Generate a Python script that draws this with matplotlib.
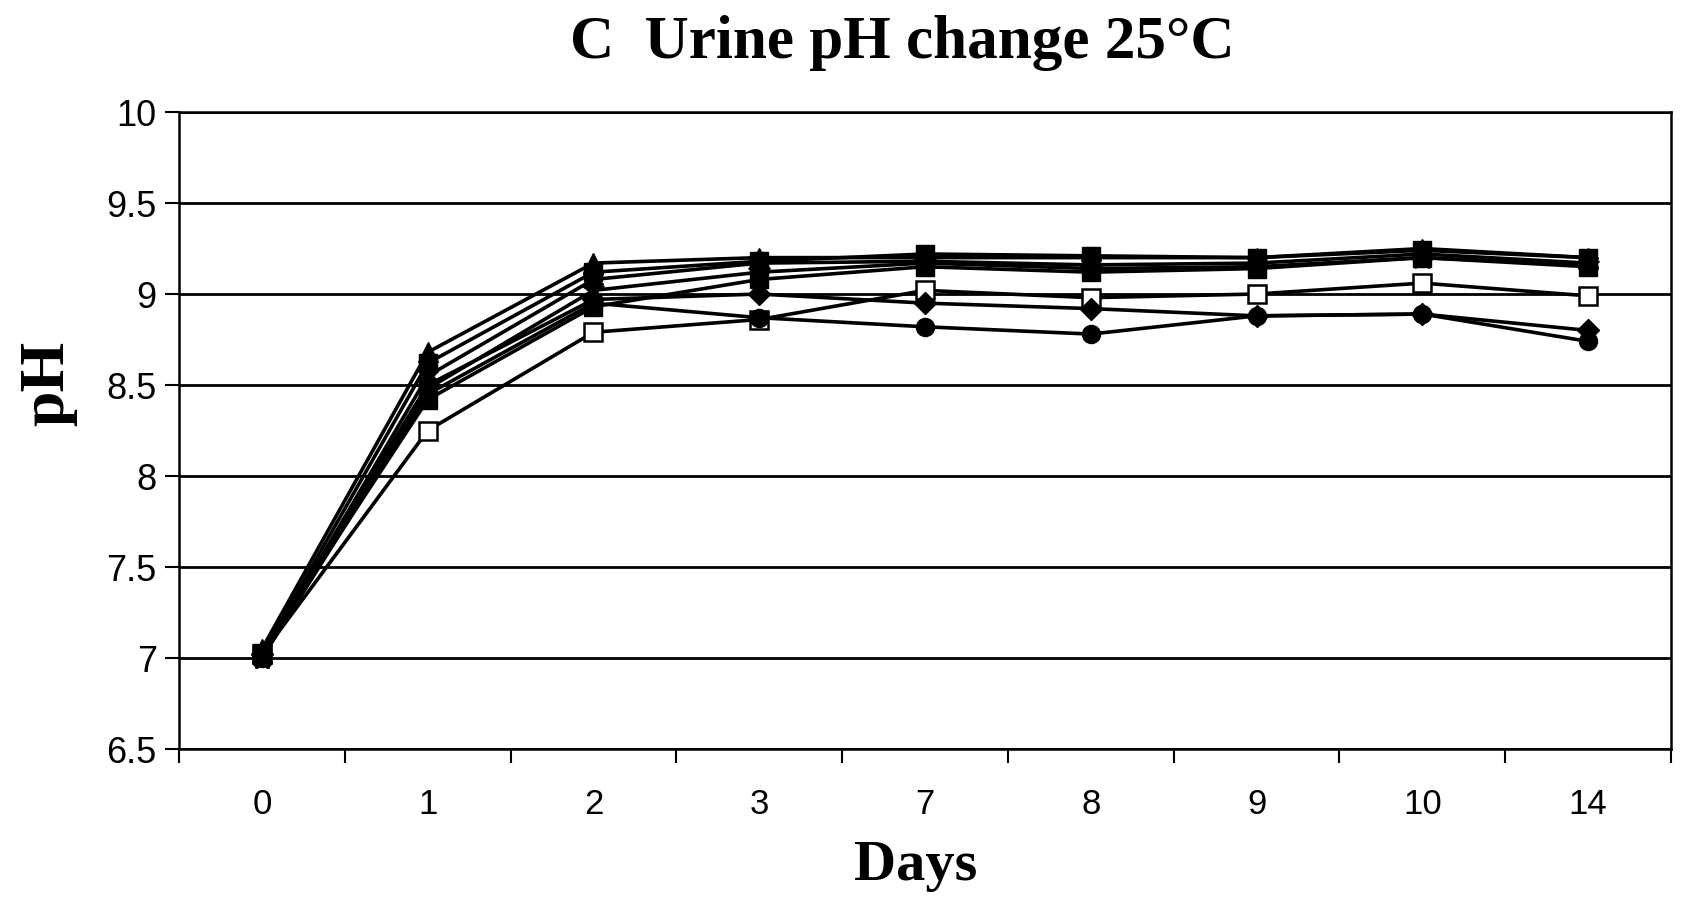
import matplotlib
matplotlib.use("Agg")
import matplotlib.pyplot as plt
import numpy as np

days = ['0', '1', '2', '3', '7', '8', '9', '10', '14']
yticks = [6.5, 7, 7.5, 8, 8.5, 9, 9.5, 10]
ytick_labels = ['6.5', '7', '7.5', '8', '8.5', '9', '9.5', '10']

open_square = [7.02, 8.25, 8.79, 8.86, 9.02, 8.98, 9.00, 9.06, 8.99]
circle      = [7.00, 8.45, 8.95, 8.87, 8.82, 8.78, 8.88, 8.89, 8.74]
diamond     = [7.02, 8.50, 8.97, 9.00, 8.95, 8.92, 8.88, 8.89, 8.80]
triangle    = [7.05, 8.68, 9.17, 9.20, 9.20, 9.20, 9.20, 9.25, 9.20]
square_a    = [7.02, 8.62, 9.12, 9.18, 9.22, 9.21, 9.20, 9.24, 9.20]
xmark       = [7.00, 8.55, 9.08, 9.17, 9.18, 9.16, 9.17, 9.22, 9.17]
star        = [7.00, 8.48, 9.02, 9.12, 9.17, 9.14, 9.15, 9.20, 9.16]
square_b    = [7.03, 8.42, 8.93, 9.08, 9.15, 9.12, 9.14, 9.20, 9.15]

fig = plt.figure(figsize=(16.94, 8.99), dpi=100)
ax = fig.add_axes([0.1057, 0.1668, 0.8807, 0.7086])

x = np.arange(len(days))
lw = 2.6
series = [
    (open_square, dict(marker='s', mfc='white', ms=13, mew=1.8)),
    (star, dict(marker='*', mfc='black', ms=17)),
    (xmark, dict(marker='X', mfc='black', ms=14)),
    (triangle, dict(marker='^', mfc='black', ms=15)),
    (diamond, dict(marker='D', mfc='black', ms=11)),
    (circle, dict(marker='o', mfc='black', ms=13)),
    (square_b, dict(marker='s', mfc='black', ms=13)),
    (square_a, dict(marker='s', mfc='black', ms=13)),
]
for vals, kw in series:
    ax.plot(x, vals, color='black', lw=lw, mec='black', zorder=3, **kw)

ax.set_xlim(-0.5, len(days) - 0.5)
ax.set_ylim(6.5, 10)
ax.set_yticks(yticks)
ax.set_yticklabels(ytick_labels)
ax.set_xticks(x)
ax.set_xticklabels(days)
ax.set_xticks(np.arange(-0.5, len(days), 1.0), minor=True)
ax.tick_params(axis='x', which='major', length=0, pad=28)
ax.tick_params(axis='x', which='minor', length=10, width=1.5, direction='out')
ax.tick_params(axis='y', length=10, width=1.5, direction='out', pad=6)

for lab in ax.get_xticklabels() + ax.get_yticklabels():
    lab.set_fontfamily('Liberation Sans')
    lab.set_fontsize(25)
for lab in ax.get_yticklabels():
    lab.set_fontsize(26)

ax.yaxis.grid(True, color='black', lw=2.0)
ax.set_axisbelow(True)
for sp in ax.spines.values():
    sp.set_linewidth(1.8)
    sp.set_color('black')

serif = dict(family='Liberation Serif', weight='bold')
fig.text(0.5325, 0.952, 'C  Urine pH change 25°C', ha='center', va='center',
         fontsize=44, **serif)
ax.set_ylabel('pH', fontsize=46, **serif)
ax.yaxis.set_label_coords(-0.068, 0.574)
ax.set_xlabel('Days', fontsize=42, **serif)
ax.xaxis.set_label_coords(0.494, -0.143)

fig.savefig('out.png', dpi=100)
